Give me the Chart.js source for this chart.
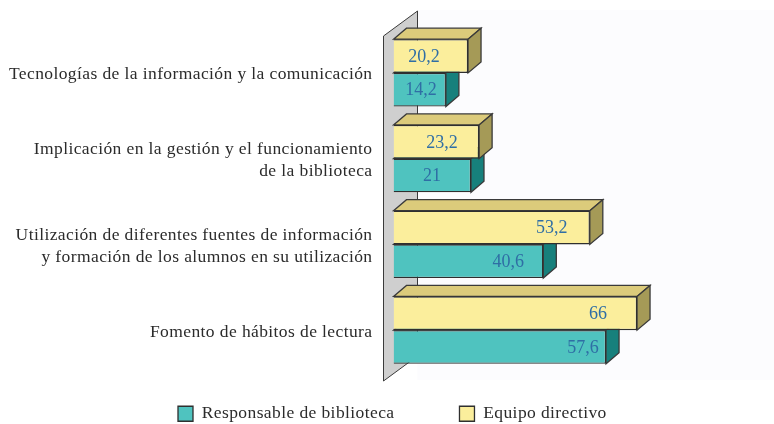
<!DOCTYPE html>
<html>
<head>
<meta charset="utf-8">
<style>
  html, body { margin: 0; padding: 0; background: #fff; }
  #wrap { width: 774px; height: 424px; }
</style>
</head>
<body>
<div id="wrap"><canvas id="grafica"></canvas></div>
<script src="https://cdn.jsdelivr.net/npm/chart.js@4"></script>
<script>
const categorias = [
    'Tecnologías de la información y la comunicación',
    ['Implicación en la gestión y el funcionamiento', 'de la biblioteca'],
    ['Utilización de diferentes fuentes de información', 'y formación de los alumnos en su utilización'],
    'Fomento de hábitos de lectura'
];
const equipoDirectivo = [20.2, 23.2, 53.2, 66];
const responsableBiblioteca = [14.2, 21, 40.6, 57.6];

// distancia de cada etiqueta al final de su barra (en la original no van centradas)
const margenEquipo = [44, 37, 38, 39];
const margenResponsable = [25, 39, 35, 23];

const SERIF = '"Liberation Serif", serif';
const DX = 13, DY = 11;
const PADDING_LEYENDA = 65;

function cara(ctx, puntos, color) {
    ctx.beginPath();
    puntos.forEach((p, i) => i ? ctx.lineTo(p[0], p[1]) : ctx.moveTo(p[0], p[1]));
    ctx.closePath();
    ctx.fillStyle = color;
    ctx.fill();
    ctx.stroke();
}

// mueve la leyenda: la separacion entre items no debe reservar alto en el layout
const ajusteLeyenda = {
    id: 'ajusteLeyenda',
    beforeLayout(chart) {
        const leyenda = chart.legend;
        if (!leyenda._fitOriginal) {
            leyenda._fitOriginal = leyenda.fit;
            leyenda.fit = function () {
                this._fitOriginal();
                this.height = 51;
            };
        }
    },
    afterLayout(chart) {
        const leyenda = chart.legend;
        leyenda.left = 178 - PADDING_LEYENDA;
        leyenda.right = 774;
        leyenda.width = 774 - leyenda.left;
        leyenda.top = 405 - PADDING_LEYENDA;
        leyenda.bottom = 424;
        leyenda.height = 424 - leyenda.top;
    }
};

// pared y caras 3D de las barras
const caras3d = {
    id: 'caras3d',
    beforeDraw(chart) {
        const ctx = chart.ctx;
        const area = chart.chartArea;
        ctx.fillStyle = '#fcfcfe';
        ctx.fillRect(area.left + 24, 10, 774 - area.left - 24, 370);
        ctx.letterSpacing = '0.4px';
    },
    beforeDatasetsDraw(chart) {
        const ctx = chart.ctx;
        const area = chart.chartArea;
        const xPared = area.left - 10;
        ctx.save();
        ctx.strokeStyle = '#3a3a3a';
        ctx.lineWidth = 1;
        cara(ctx, [
            [xPared, area.top + 6],
            [xPared + 34, area.top - 19],
            [xPared + 34, area.bottom - 17],
            [xPared, area.bottom + 8]
        ], '#cfcfcf');

        ctx.lineWidth = 1.3;
        const colores = [
            { arriba: '#dccb7b', lado: '#a59a57' },
            { arriba: '#2a9a96', lado: '#17807c' }
        ];
        [1, 0].forEach(d => {
            chart.getDatasetMeta(d).data.forEach(bar => {
                const top = bar.y - bar.height / 2;
                const bottom = bar.y + bar.height / 2;
                cara(ctx, [[bar.base, top], [bar.base + DX, top - DY], [bar.x + DX, top - DY], [bar.x, top]], colores[d].arriba);
                cara(ctx, [[bar.x, top], [bar.x + DX, top - DY], [bar.x + DX, bottom - DY], [bar.x, bottom]], colores[d].lado);
            });
        });
        ctx.restore();
    },
    afterDatasetsDraw(chart) {
        const ctx = chart.ctx;
        ctx.save();
        ctx.font = '18px ' + SERIF;
        ctx.fillStyle = '#2f6ea5';
        ctx.textAlign = 'center';
        ctx.textBaseline = 'middle';
        ctx.letterSpacing = '0px';
        chart.data.datasets.forEach((ds, d) => {
            const margen = d === 0 ? margenEquipo : margenResponsable;
            chart.getDatasetMeta(d).data.forEach((bar, i) => {
                ctx.fillText(String(ds.data[i]).replace('.', ','), bar.x - margen[i], bar.y + 1);
            });
        });
        ctx.restore();
    }
};

new Chart(document.getElementById('grafica'), {
    type: 'bar',
    data: {
        labels: categorias,
        datasets: [
            {
                label: 'Equipo directivo',
                data: equipoDirectivo,
                backgroundColor: '#fbee9c',
                borderColor: '#2f2f2f',
                borderWidth: 1.3
            },
            {
                label: 'Responsable de biblioteca',
                data: responsableBiblioteca,
                backgroundColor: '#4fc3bf',
                borderColor: '#2f2f2f',
                borderWidth: 1.3
            }
        ]
    },
    options: {
        indexAxis: 'y',
        responsive: true,
        maintainAspectRatio: false,
        animation: false,
        categoryPercentage: 0.785,
        barPercentage: 1,
        layout: { padding: { top: 30, right: 11.5, left: 0, bottom: 0 } },
        scales: {
            x: { display: false, min: 0, max: 100 },
            y: {
                grid: { display: false, drawTicks: false },
                border: { display: false },
                afterFit(escala) {
                    escala.width = 393.5;
                    escala.paddingTop = 0;
                    escala.paddingBottom = 0;
                },
                ticks: {
                    padding: 21,
                    labelOffset: 2,
                    color: '#2b2b2b',
                    autoSkip: false,
                    font: { family: SERIF, size: 17.5, lineHeight: 1.27 }
                }
            }
        },
        plugins: {
            tooltip: { enabled: false },
            legend: {
                position: 'bottom',
                align: 'start',
                reverse: true,
                labels: {
                    boxWidth: 15,
                    boxHeight: 15,
                    padding: PADDING_LEYENDA,
                    color: '#2b2b2b',
                    font: { family: SERIF, size: 17.5 }
                }
            }
        }
    },
    plugins: [ajusteLeyenda, caras3d]
});
</script>
</body>
</html>
